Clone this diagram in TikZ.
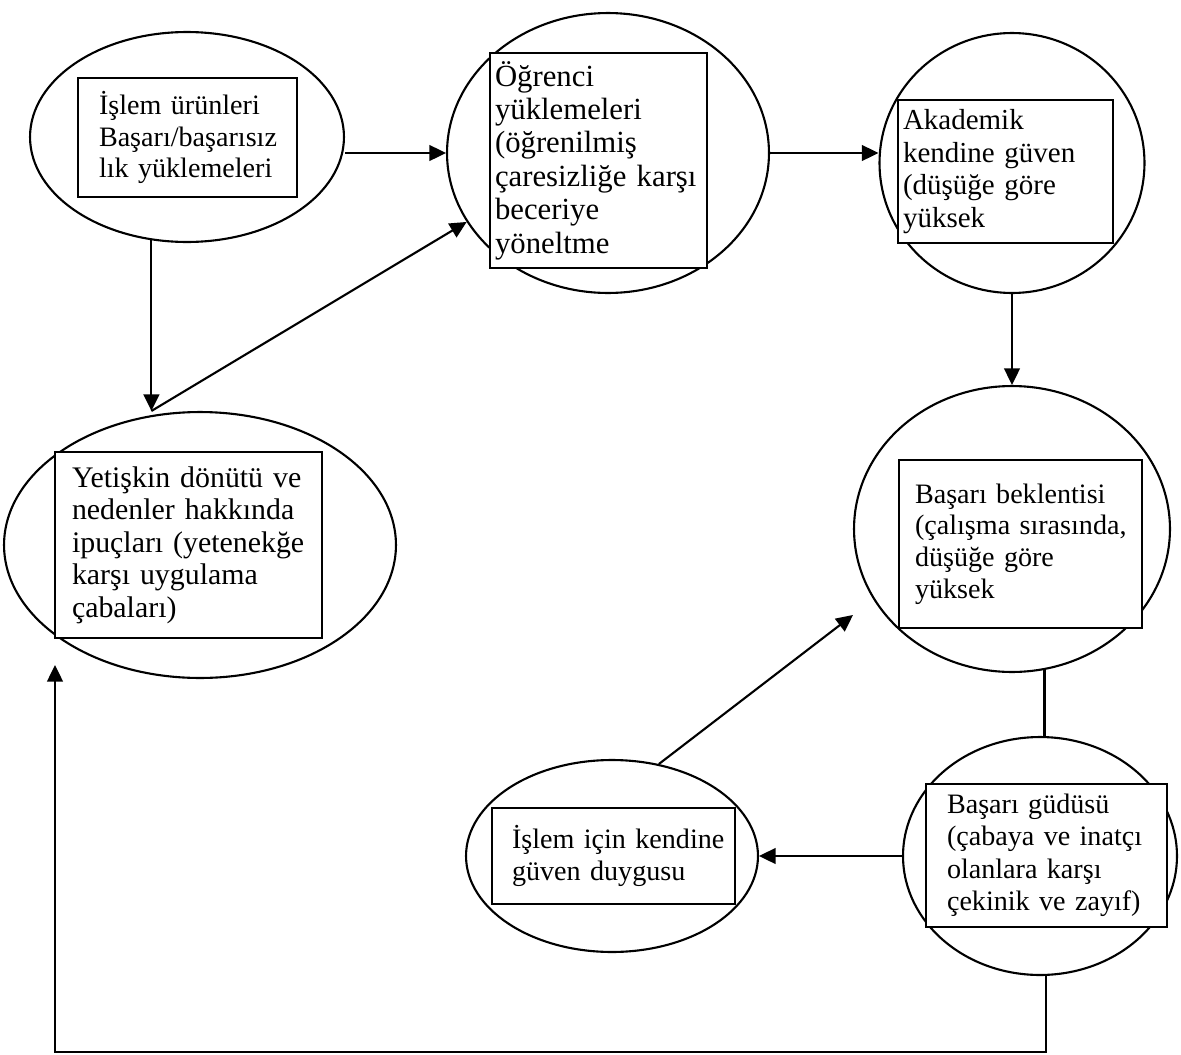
\documentclass[tikz,border=0pt]{standalone}
\usepackage{fontspec}
\setmainfont{Liberation Serif}
\usepackage{tikz}
\usetikzlibrary{shapes.geometric, arrows.meta, positioning}
\tikzset{
  oval/.style={ellipse, draw, line width=1.2pt, inner sep=0pt},
  box/.style={
    rectangle, draw, fill=white, line width=1.1pt, align=left, inner ysep=0pt,
    font=\fontsize{16}{18}\selectfont
  },
  arr/.style={-{Triangle[length=9.5pt, width=9pt]}, line width=1.2pt},
  ln/.style={line width=1.2pt}
}

\begin{document}
\begin{tikzpicture}[x=0.02cm, y=-0.02cm]

  \useasboundingbox (0,0) rectangle (1181,1055);

  \node[oval, minimum width=6.28cm, minimum height=4.2cm]  (e1) at (187,137) {};
  \node[oval, minimum width=6.44cm, minimum height=5.6cm]  (e2) at (608,153) {};
  \node[oval, minimum width=5.3cm,  minimum height=5.2cm]  (e3) at (1012,163) {};
  \node[oval, minimum width=6.32cm, minimum height=5.72cm] (e4) at (1012,529) {};
  \node[oval, minimum width=7.84cm, minimum height=5.32cm] (e5) at (200,545) {};
  \node[oval, minimum width=5.84cm, minimum height=3.84cm] (e6) at (612,856) {};
  \node[oval, minimum width=5.48cm, minimum height=4.76cm] (e7) at (1040,856) {};

  \node[box, text width=3.54cm, inner xsep=0.42cm, minimum height=2.38cm] (urun) at (187.5,137.5)
        {İşlem~ürünleri\\Başarı/başarısız\\lık~yüklemeleri};

  \node[box, font=\fontsize{17.5}{19}\selectfont, text width=4.14cm, inner xsep=0.1cm,
        minimum height=4.3cm] (ogr) at (598.5,160.5)
        {Öğrenci\\yüklemeleri\\(öğrenilmiş\\çaresizliğe~karşı\\beceriye\\yöneltme};

  \node[box, font=\fontsize{16.5}{18.5}\selectfont, text width=4.1cm, inner xsep=0.1cm,
        minimum height=2.86cm] (akad) at (1005.5,171.5)
        {Akademik\\kendine~güven\\(düşüğe~göre\\yüksek};

  \node[box, text width=4.22cm, inner xsep=0.32cm, minimum height=3.36cm] (bekl) at (1020.5,544)
        {Başarı~beklentisi\\(çalışma~sırasında,\\düşüğe~göre\\yüksek};

  \node[box, font=\fontsize{17}{18.5}\selectfont, text width=4.66cm, inner xsep=0.34cm,
        minimum height=3.72cm] (yet) at (188.5,545)
        {Yetişkin~dönütü~ve\\nedenler~hakkında\\ipuçları~(yetenekğe\\karşı~uygulama\\çabaları)};

  \node[box, text width=4.06cm, inner xsep=0.4cm, minimum height=1.92cm] (islem) at (613.5,856)
        {İşlem~için~kendine\\güven~duygusu};

  \node[box, font=\fontsize{16}{18.5}\selectfont, text width=3.98cm, inner xsep=0.42cm,
        minimum height=2.86cm] (gudu) at (1046.5,855.5)
        {Başarı~güdüsü\\(çabaya~ve~inatçı\\olanlara~karşı\\çekinik~ve~zayıf)};

  \coordinate (j5) at (e1.-109 |- e5.north);
  \coordinate (p4) at (853,615);
  \coordinate (c2) at (55,1052);
  \coordinate (c3) at (55,665);

  \draw[arr] (e1.east |- e2.west) -- (e2.west);
  \draw[arr] (e2.east) -- (e2.east -| e3.west);
  \draw[arr] (e3.south) -- (e3.south |- e4.north);
  \draw[arr] (e1.-109) -- (j5);
  \draw[arr] (j5) -- (e2.-154);
  \draw[arr] (e6.63) -- (p4);
  \draw[arr] (e7.west) -- (e6.east);
  \draw[ln]  (e4.-77) -- (e4.-77 |- e7.north);
  \draw[arr] (e7.-87) |- (c2) -- (c3);

\end{tikzpicture}
\end{document}
